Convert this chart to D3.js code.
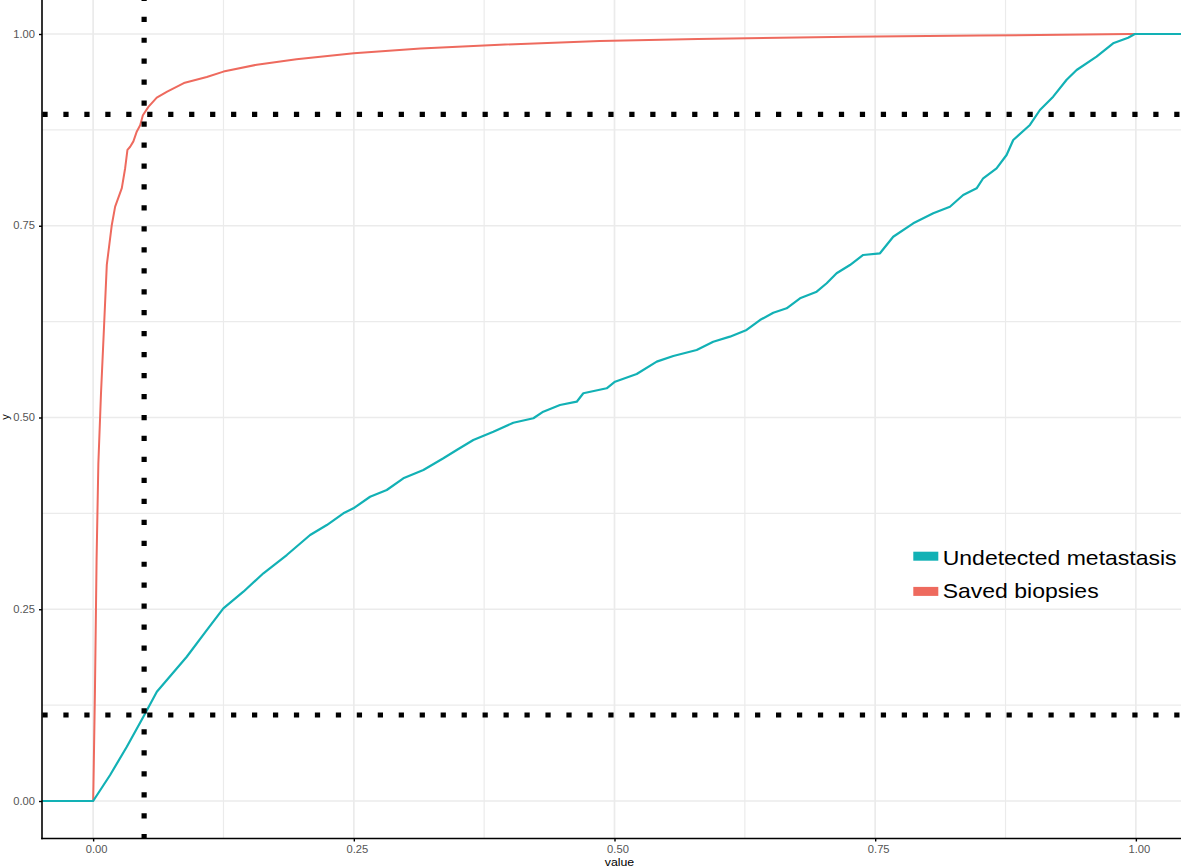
<!DOCTYPE html>
<html><head><meta charset="utf-8">
<script src="https://cdn.jsdelivr.net/npm/d3@7"></script>
<style>
body{margin:0;background:#fff;}
svg{display:block;}
text{font-family:"Liberation Sans",Arial,Helvetica,sans-serif;}
</style>
</head><body>
<svg id="chart" width="1181" height="867"></svg>
<script>
// ---- data ----
const xTicks = [0, 0.25, 0.5, 0.75, 1];
const yTicks = [0, 0.25, 0.5, 0.75, 1];
const xMinor = [0.125, 0.375, 0.625, 0.875];
const yMinor = [0.125, 0.375, 0.625, 0.875];
const xTickLabels = ["0.00", "0.25", "0.50", "0.75", "1.00"];
const yTickLabels = ["0.00", "0.25", "0.50", "0.75", "1.00"];
const seriesNames = ["Undetected metastasis", "Saved biopsies"];
const seriesColors = ["#12B1B5", "#EE6A5E"];

const savedX = [0, 0.0003, 0.0017, 0.0033, 0.005, 0.0075, 0.0105, 0.0131, 0.0179, 0.0211, 0.0275, 0.0307, 0.0329, 0.0355, 0.0386, 0.0419, 0.0451, 0.0477, 0.053, 0.061, 0.071, 0.087, 0.109, 0.125, 0.157, 0.195, 0.25, 0.314, 0.39, 0.486, 0.58, 0.726, 0.85, 0.994];
const savedY = [0, 0.02, 0.14, 0.315, 0.44, 0.53, 0.62, 0.699, 0.751, 0.775, 0.799, 0.825, 0.849, 0.853, 0.86, 0.873, 0.881, 0.894, 0.905, 0.917, 0.925, 0.936, 0.944, 0.951, 0.96, 0.967, 0.975, 0.981, 0.986, 0.991, 0.9935, 0.9965, 0.998, 1.0];

const undetX = [0, 0.0163, 0.0323, 0.0482, 0.0611, 0.0898, 0.109, 0.1249, 0.1441, 0.1633, 0.1857, 0.2081, 0.2241, 0.24, 0.2496, 0.2656, 0.2816, 0.2975, 0.3167, 0.3359, 0.3487, 0.3646, 0.3838, 0.403, 0.4222, 0.4317, 0.4477, 0.4638, 0.4701, 0.4925, 0.5005, 0.5213, 0.5405, 0.5564, 0.5788, 0.5947, 0.6107, 0.6267, 0.6395, 0.6523, 0.6651, 0.6779, 0.6939, 0.7035, 0.713, 0.7258, 0.7385, 0.7546, 0.7673, 0.7865, 0.8057, 0.8217, 0.8344, 0.8473, 0.8536, 0.8664, 0.876, 0.8824, 0.8984, 0.908, 0.9207, 0.9336, 0.9432, 0.9623, 0.9782, 0.9926, 0.999];
const undetY = [0, 0.0339, 0.0708, 0.1099, 0.1425, 0.1881, 0.2229, 0.2512, 0.2729, 0.2969, 0.3207, 0.3468, 0.3598, 0.3751, 0.3816, 0.3967, 0.4055, 0.4207, 0.4316, 0.4468, 0.4576, 0.4707, 0.4815, 0.4932, 0.499, 0.5076, 0.5163, 0.5206, 0.5316, 0.5381, 0.5467, 0.5567, 0.5728, 0.5802, 0.588, 0.5988, 0.6054, 0.6141, 0.6271, 0.6366, 0.6424, 0.6554, 0.664, 0.675, 0.688, 0.6988, 0.7119, 0.7141, 0.7357, 0.7532, 0.7662, 0.7748, 0.7901, 0.7988, 0.8119, 0.8249, 0.8422, 0.8618, 0.8814, 0.9009, 0.9183, 0.9404, 0.9531, 0.9704, 0.9879, 0.9952, 1.0];

const vThreshold = [0.0489];
const hThresholds = [0.8953, 0.1121];

// ---- layout ----
const svg = d3.select("#chart");
const x = d3.scaleLinear().domain([-0.05, 1.05]).range([41, 1188]);
const y = d3.scaleLinear().domain([-0.05, 1.05]).range([839.35, -4.35]);
const panel = {left: 42, right: 1181, top: 0, bottom: 838.5};

svg.append("rect").attr("width", 1181).attr("height", 867).attr("fill", "#fff");

svg.append("defs").append("clipPath").attr("id", "clip")
  .append("rect").attr("x", panel.left).attr("y", panel.top)
  .attr("width", panel.right - panel.left).attr("height", panel.bottom - panel.top);

const grid = svg.append("g");
grid.selectAll(".vmin").data(xMinor).join("line")
  .attr("x1", d => x(d)).attr("x2", d => x(d)).attr("y1", panel.top).attr("y2", panel.bottom)
  .attr("stroke", "#ebebeb").attr("stroke-width", 1.2);
grid.selectAll(".hmin").data(yMinor).join("line")
  .attr("y1", d => y(d)).attr("y2", d => y(d)).attr("x1", panel.left).attr("x2", panel.right)
  .attr("stroke", "#ebebeb").attr("stroke-width", 1.2);
grid.selectAll(".vmaj").data(xTicks).join("line")
  .attr("x1", d => x(d)).attr("x2", d => x(d)).attr("y1", panel.top).attr("y2", panel.bottom)
  .attr("stroke", "#ebebeb").attr("stroke-width", 1.7);
grid.selectAll(".hmaj").data(yTicks).join("line")
  .attr("y1", d => y(d)).attr("y2", d => y(d)).attr("x1", panel.left).attr("x2", panel.right)
  .attr("stroke", "#ebebeb").attr("stroke-width", 1.7);

// ---- lines (ECDF, padded to panel edges) ----
const plot = svg.append("g").attr("clip-path", "url(#clip)");
const line = d3.line().x(d => x(d[0])).y(d => y(d[1]));
function padded(xs, ys) {
  const pts = xs.map((v, i) => [v, ys[i]]);
  return [[x.domain()[0], 0], ...pts, [x.domain()[1], 1]];
}
plot.append("path").datum(padded(savedX, savedY))
  .attr("d", line).attr("fill", "none").attr("stroke", seriesColors[1])
  .attr("stroke-width", 2).attr("stroke-linejoin", "round");
plot.append("path").datum(padded(undetX, undetY))
  .attr("d", line).attr("fill", "none").attr("stroke", seriesColors[0])
  .attr("stroke-width", 2.2).attr("stroke-linejoin", "round");

// ---- dotted threshold lines ----
plot.selectAll(".hth").data(hThresholds).join("line")
  .attr("x1", x.range()[0]).attr("x2", x.range()[1])
  .attr("y1", d => y(d)).attr("y2", d => y(d))
  .attr("stroke", "#000").attr("stroke-width", 5.2)
  .attr("stroke-dasharray", "5.24,15.72").attr("stroke-dashoffset", -1.4);
plot.selectAll(".vth").data(vThreshold).join("line")
  .attr("x1", d => x(d)).attr("x2", d => x(d))
  .attr("y1", y.range()[0]).attr("y2", y.range()[1])
  .attr("stroke", "#000").attr("stroke-width", 5.2)
  .attr("stroke-dasharray", "5.24,15.72");

// ---- axes ----
const SX = 1.12;
const yAxis = d3.axisLeft(y).tickValues(yTicks)
  .tickFormat((d, i) => yTickLabels[i]).tickSize(3).tickSizeOuter(0).tickPadding(4);
const gy = svg.append("g").attr("transform", `translate(${panel.left},0)`).call(yAxis);
gy.select(".domain").remove();
gy.selectAll(".tick line").attr("stroke", "#000").attr("stroke-width", 1.4);
gy.selectAll(".tick text").attr("fill", "#555").attr("font-size", 10)
  .attr("font-family", "Liberation Sans, Arial, sans-serif")
  .attr("x", -7 / SX).attr("transform", `scale(${SX},1)`);

const xAxis = d3.axisBottom(x).tickValues(xTicks)
  .tickFormat((d, i) => xTickLabels[i]).tickSize(3).tickSizeOuter(0).tickPadding(4.5);
const gx = svg.append("g").attr("transform", `translate(0,${panel.bottom})`).call(xAxis);
gx.select(".domain").remove();
gx.selectAll(".tick line").attr("stroke", "#000").attr("stroke-width", 1.4);
gx.selectAll(".tick text").attr("fill", "#555").attr("font-size", 10)
  .attr("font-family", "Liberation Sans, Arial, sans-serif")
  .attr("x", 3 / SX).attr("transform", `scale(${SX},1)`);

svg.append("line").attr("x1", panel.left).attr("x2", panel.left)
  .attr("y1", 0).attr("y2", panel.bottom + 0.8).attr("stroke", "#000").attr("stroke-width", 1.6);
svg.append("line").attr("x1", panel.left - 0.8).attr("x2", panel.right)
  .attr("y1", panel.bottom).attr("y2", panel.bottom).attr("stroke", "#000").attr("stroke-width", 1.6);

// axis titles
svg.append("text").attr("transform", `translate(619.5,866) scale(${SX},1)`)
  .attr("text-anchor", "middle").attr("font-size", 11).attr("fill", "#000").text("value");
svg.append("text").attr("transform", `translate(8.5,417) rotate(-90)`)
  .attr("text-anchor", "middle").attr("font-size", 11).attr("fill", "#000").text("y");

// ---- legend ----
const LSX = 1.15;
const legend = svg.append("g");
const legendY = [551.7, 586.9];
const legendBase = [565, 598.4];
seriesNames.forEach((name, i) => {
  legend.append("rect").attr("x", 913.3).attr("y", legendY[i])
    .attr("width", 25).attr("height", 9).attr("fill", seriesColors[i]);
  legend.append("text").attr("transform", `translate(942.7,${legendBase[i]}) scale(${LSX},1)`)
    .attr("font-size", 20).attr("fill", "#000").text(name);
});
</script>
</body></html>
